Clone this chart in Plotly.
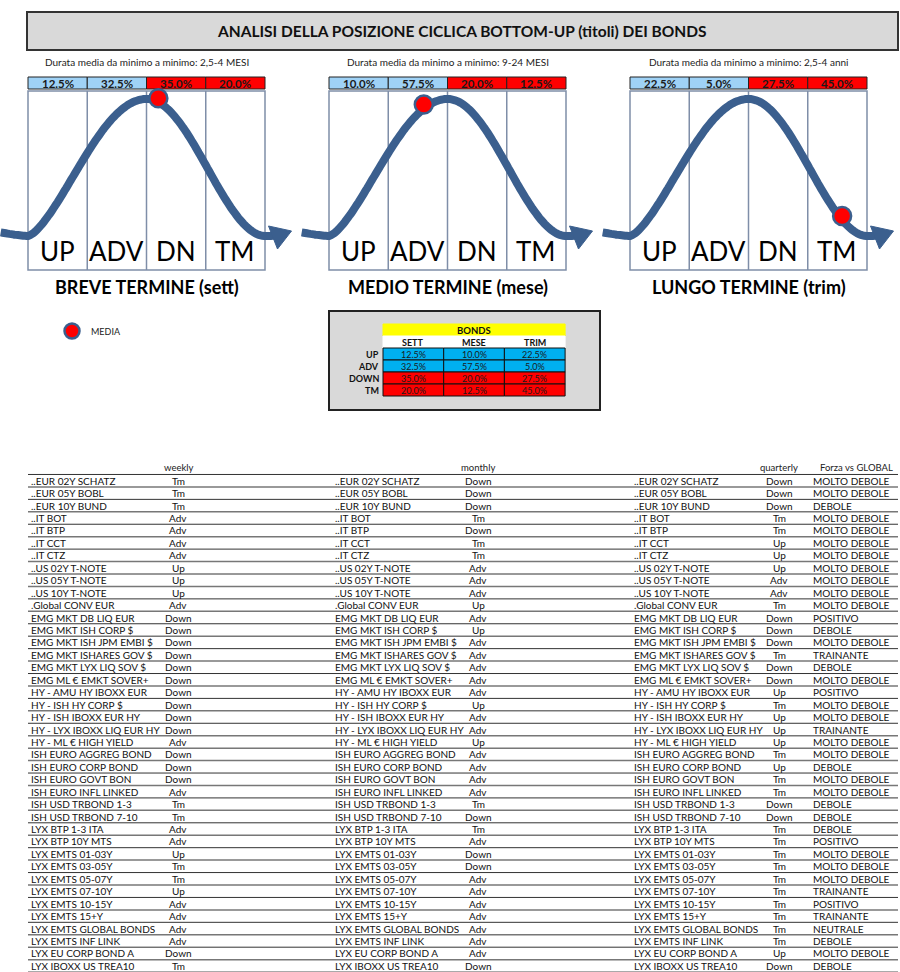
"""Cyclical position (bottom-up) of bonds: cycle panels, summary table, instrument table."""

import numpy as np
import plotly.graph_objects as go

FONT = "Lato"

# ---- data ----
title = "ANALISI DELLA POSIZIONE CICLICA BOTTOM-UP (titoli) DEI BONDS"
phases = ["UP", "ADV", "DN", "TM"]
horizons = ["BREVE TERMINE (sett)", "MEDIO TERMINE (mese)", "LUNGO TERMINE (trim)"]
durations = [
    "Durata media da minimo a minimo: 2,5-4 MESI",
    "Durata media da minimo a minimo: 9-24 MESI",
    "Durata media da minimo a minimo: 2,5-4 anni",
]
pct_sett = [12.5, 32.5, 35.0, 20.0]
pct_mese = [10.0, 57.5, 20.0, 12.5]
pct_trim = [22.5, 5.0, 27.5, 45.0]
# average position in the cycle (fraction of a full cycle)
media_sett = 0.55
media_mese = 0.40
media_trim = 0.895

summary_title = "BONDS"
summary_cols = ["SETT", "MESE", "TRIM"]
summary_rows = ["UP", "ADV", "DOWN", "TM"]

instruments = [
    "..EUR 02Y SCHATZ", "..EUR 05Y BOBL", "..EUR 10Y BUND", "..IT BOT", "..IT BTP",
    "..IT CCT", "..IT CTZ", "..US 02Y T-NOTE", "..US 05Y T-NOTE", "..US 10Y T-NOTE",
    ".Global CONV EUR", "EMG MKT DB LIQ EUR", "EMG MKT ISH CORP $", "EMG MKT ISH JPM EMBI $",
    "EMG MKT ISHARES GOV $", "EMG MKT LYX LIQ SOV $", "EMG ML € EMKT SOVER+",
    "HY - AMU HY IBOXX EUR", "HY - ISH HY CORP $", "HY - ISH IBOXX EUR HY",
    "HY - LYX IBOXX LIQ EUR HY", "HY - ML € HIGH YIELD", "ISH EURO AGGREG BOND",
    "ISH EURO CORP BOND", "ISH EURO GOVT BON", "ISH EURO INFL LINKED", "ISH USD TRBOND 1-3",
    "ISH USD TRBOND 7-10", "LYX BTP 1-3 ITA", "LYX BTP 10Y MTS", "LYX EMTS 01-03Y",
    "LYX EMTS 03-05Y", "LYX EMTS 05-07Y", "LYX EMTS 07-10Y", "LYX EMTS 10-15Y",
    "LYX EMTS 15+Y", "LYX EMTS GLOBAL BONDS", "LYX EMTS INF LINK", "LYX EU CORP BOND A",
    "LYX IBOXX US TREA10",
]
weekly = [
    "Tm", "Tm", "Tm", "Adv", "Adv", "Adv", "Adv", "Up", "Up", "Up",
    "Adv", "Down", "Down", "Down", "Down", "Down", "Down", "Down", "Down", "Down",
    "Down", "Adv", "Down", "Down", "Down", "Adv", "Tm", "Tm", "Adv", "Adv",
    "Up", "Tm", "Tm", "Up", "Adv", "Adv", "Adv", "Adv", "Down", "Tm",
]
monthly = [
    "Down", "Down", "Down", "Tm", "Down", "Tm", "Tm", "Adv", "Adv", "Adv",
    "Up", "Adv", "Up", "Adv", "Adv", "Adv", "Adv", "Adv", "Up", "Adv",
    "Adv", "Up", "Adv", "Adv", "Adv", "Adv", "Tm", "Down", "Tm", "Adv",
    "Down", "Down", "Adv", "Adv", "Adv", "Adv", "Adv", "Adv", "Adv", "Down",
]
quarterly = [
    "Down", "Down", "Down", "Tm", "Tm", "Up", "Up", "Up", "Adv", "Adv",
    "Tm", "Down", "Down", "Down", "Tm", "Down", "Down", "Up", "Tm", "Up",
    "Up", "Up", "Tm", "Up", "Tm", "Tm", "Down", "Down", "Tm", "Tm",
    "Tm", "Tm", "Tm", "Tm", "Tm", "Tm", "Tm", "Tm", "Up", "Down",
]
forza = [
    "MOLTO DEBOLE", "MOLTO DEBOLE", "DEBOLE", "MOLTO DEBOLE", "MOLTO DEBOLE",
    "MOLTO DEBOLE", "MOLTO DEBOLE", "MOLTO DEBOLE", "MOLTO DEBOLE", "MOLTO DEBOLE",
    "MOLTO DEBOLE", "POSITIVO", "DEBOLE", "MOLTO DEBOLE", "TRAINANTE",
    "DEBOLE", "MOLTO DEBOLE", "POSITIVO", "MOLTO DEBOLE", "MOLTO DEBOLE",
    "TRAINANTE", "MOLTO DEBOLE", "MOLTO DEBOLE", "DEBOLE", "MOLTO DEBOLE",
    "MOLTO DEBOLE", "DEBOLE", "DEBOLE", "DEBOLE", "POSITIVO",
    "MOLTO DEBOLE", "MOLTO DEBOLE", "MOLTO DEBOLE", "TRAINANTE", "POSITIVO",
    "TRAINANTE", "NEUTRALE", "DEBOLE", "MOLTO DEBOLE", "DEBOLE",
]
col_headers = ["weekly", "monthly", "quarterly", "Forza vs GLOBAL"]

# ---- styling ----
LIGHT_BLUE = "#9fd2f6"
BLUE = "#00b0f0"
RED = "#ff0000"
CURVE = "#3b5f8e"
BOX_LINE = "#7f8ea8"

shapes, ann = [], []


def text(x, y, s, size=9, bold=False, anchor="center", color="#111111"):
    ann.append(dict(x=x, y=y, xref="x", yref="y", text=f"<b>{s}</b>" if bold else s,
                    showarrow=False, xanchor=anchor, yanchor="middle",
                    font=dict(size=size, color=color, family=FONT)))


def rect(x0, y0, x1, y1, fill="rgba(0,0,0,0)", line="#000000", lw=1, layer="below"):
    shapes.append(dict(type="rect", xref="x", yref="y", x0=x0, y0=y0, x1=x1, y1=y1,
                       fillcolor=fill, line=dict(color=line, width=lw), layer=layer))


def hline(x0, x1, y, color="#222222", lw=1):
    shapes.append(dict(type="line", xref="x", yref="y", x0=x0, x1=x1, y0=y, y1=y,
                       line=dict(color=color, width=lw), layer="below"))


# title box
rect(27, 12, 898, 50, fill="#d9d9d9", line="#333333", lw=2)
text(462, 31, title, size=15.5, bold=True)

# ---- cycle panels ----
PANEL_X = [28, 329, 630]
BOX_W = 237
TROUGH, PEAK = 236, 99


def wave(f):
    p = np.where(f > 0.5, 1.9, 1.45)
    s = np.abs(np.sin(np.pi * f)) ** p
    return np.where((f >= 0) & (f <= 1), s, 0.12 * s)


pcts = [pct_sett, pct_mese, pct_trim]
medias = [media_sett, media_mese, media_trim]
dot_x, dot_y = [], []
for p, left in enumerate(PANEL_X):
    cx = left + BOX_W / 2
    text(cx, 62, durations[p], size=10, color="#222222")
    cw = BOX_W / 4
    # percentage strip
    for i, v in enumerate(pcts[p]):
        rect(left + i * cw, 77, left + (i + 1) * cw, 89,
             fill=LIGHT_BLUE if i < 2 else RED, line="#222222", lw=1)
        text(left + (i + 0.5) * cw, 83, f"{v:.1f}%", size=11.5, bold=True, color="#1a1a1a")
    # phase box
    rect(left, 91, left + BOX_W, 270, line=BOX_LINE, lw=1.5)
    for i in range(1, 4):
        shapes.append(dict(type="line", xref="x", yref="y", x0=left + i * cw, x1=left + i * cw,
                           y0=91, y1=270, line=dict(color=BOX_LINE, width=1.5), layer="below"))
    for i, ph in enumerate(phases):
        text(left + (i + 0.5) * cw, 251, ph, size=26, color="#000000")
    text(cx, 287, horizons[p], size=18, bold=True, color="#000000")
    # cycle wave
    f = np.linspace(-0.115, 1.04, 160)
    xs = left + f * BOX_W
    ys = TROUGH - (TROUGH - PEAK) * wave(f)
    path = "M " + " L ".join(f"{a:.1f},{b:.1f}" for a, b in zip(xs, ys))
    shapes.append(dict(type="path", xref="x", yref="y", path=path,
                       line=dict(color=CURVE, width=8), layer="below"))
    # arrow head
    ax = left + 1.04 * BOX_W
    head = f"M {ax - 6:.1f},{TROUGH - 10} L {ax + 17:.1f},{TROUGH - 5} L {ax + 3:.1f},{TROUGH + 13} Z"
    shapes.append(dict(type="path", xref="x", yref="y", path=head,
                       fillcolor=CURVE, line=dict(color=CURVE, width=1), layer="below"))
    m = medias[p]
    dot_x.append(left + m * BOX_W)
    dot_y.append(float(TROUGH - (TROUGH - PEAK) * wave(np.array([m]))[0]) - 4)

fig = go.Figure()
fig.add_trace(go.Scatter(x=dot_x, y=dot_y, mode="markers", hoverinfo="skip",
                         marker=dict(size=18, color=RED, line=dict(color=CURVE, width=2.5))))
# legend dot
fig.add_trace(go.Scatter(x=[72], y=[331], mode="markers", hoverinfo="skip",
                         marker=dict(size=15, color=RED, line=dict(color=CURVE, width=2.5))))
text(89, 331, "MEDIA", size=9, anchor="left", color="#222222")

# ---- summary table ----
rect(329, 311, 600, 410, fill="#d9d9d9", line="#222222", lw=2)
SX0, SCW, SRH = 383, 60.7, 12
rect(SX0, 324, SX0 + 3 * SCW, 336, fill="#ffff00", line="#ffff00")
text(SX0 + 1.5 * SCW, 330, summary_title, size=9.5, bold=True)
rect(SX0, 336, SX0 + 3 * SCW, 348, fill="#ffffff", line="#ffffff")
for j, c in enumerate(summary_cols):
    text(SX0 + (j + 0.5) * SCW, 342, c, size=9, bold=True)
for i, r in enumerate(summary_rows):
    y0 = 348 + i * SRH
    text(SX0 - 2, y0 + SRH / 2, r, size=9, bold=True, anchor="right")
    for j, vals in enumerate(pcts):
        rect(SX0 + j * SCW, y0, SX0 + (j + 1) * SCW, y0 + SRH,
             fill=BLUE if i < 2 else RED, line="#111111", lw=1)
        text(SX0 + (j + 0.5) * SCW, y0 + SRH / 2, f"{vals[i]:.1f}%", size=9, color="#1a1a1a")

# ---- instrument table ----
ROW0, ROW_H = 480.7, 12.44
NAME_X = [29, 333, 632]
VAL_X = [178, 478, 779]
FORZA_X = 811
for k, h in enumerate(col_headers[:3]):
    text(VAL_X[k], ROW0 - ROW_H - 1, h, size=9.5, color="#222222")
text(818, ROW0 - ROW_H - 1, col_headers[3], size=9.5, anchor="left", color="#222222")
for i in range(len(instruments) + 1):
    hline(28, 898, ROW0 - ROW_H / 2 + i * ROW_H, color="#333333" if i % 2 == 0 else "#777777",
          lw=1 if i % 2 == 0 else 1.5)
for i, name in enumerate(instruments):
    y = ROW0 + i * ROW_H
    for k, vals in enumerate([weekly, monthly, quarterly]):
        text(NAME_X[k], y, name, size=10, anchor="left")
        text(VAL_X[k], y, vals[i], size=10)
    text(FORZA_X, y, forza[i], size=10, anchor="left")

fig.update_layout(
    width=900, height=972,
    margin=dict(l=0, r=0, t=0, b=0),
    paper_bgcolor="white", plot_bgcolor="rgba(0,0,0,0)",
    showlegend=False,
    xaxis=dict(range=[0, 900], visible=False, fixedrange=True),
    yaxis=dict(range=[972, 0], visible=False, fixedrange=True),
    shapes=shapes, annotations=ann,
)

fig.write_html(
    "out.html",
    config={"displayModeBar": False},
    post_script="document.body.style.margin='0px';document.body.style.overflow='hidden';",
)
